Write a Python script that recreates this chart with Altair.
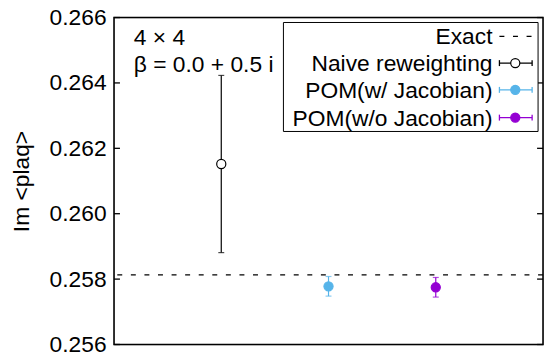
import altair as alt
import pandas as pd

# ---- data ----
methods = ["Naive reweighting", "POM(w/ Jacobian)", "POM(w/o Jacobian)"]
xpos = [1, 2, 3]
values = [0.26152, 0.25778, 0.25775]
errors = [0.00271, 0.00030, 0.00030]
colors = ["#000000", "#56B4E9", "#9400D3"]
fills = ["#ffffff", "#56B4E9", "#9400D3"]
exact_value = 0.25813
y_ticks = [0.256, 0.258, 0.260, 0.262, 0.264, 0.266]
legend_labels = ["Exact"] + methods

W, H = 433, 330
FONT = "Liberation Sans"
FS = 23

ydom = [0.256, 0.266]
xsc = alt.Scale(domain=[0, 4], nice=False, zero=False)
ysc = alt.Scale(domain=ydom, nice=False, zero=False)

df = pd.DataFrame({
    "method": methods, "x": xpos, "v": values, "e": errors,
    "color": colors, "fill": fills,
})
df["lo"] = df["v"] - df["e"]
df["hi"] = df["v"] + df["e"]

ticks_df = pd.DataFrame({"t": y_ticks})

base = alt.Chart(df)

# y axis (labels + title) carried by an invisible layer
axis_layer = alt.Chart(ticks_df).mark_point(opacity=0).encode(
    y=alt.Y("t:Q", scale=ysc, title="Im <plaq>",
            axis=alt.Axis(values=y_ticks, format=".3f", tickSize=0, domain=False,
                          grid=False, labelFontSize=FS, labelFont=FONT,
                          labelColor="black", labelPadding=8,
                          titleFontSize=FS, titleFont=FONT, titleFontWeight="normal",
                          titleColor="black", titlePadding=16)),
)

frame = alt.Chart(pd.DataFrame({"a": [0]})).mark_rect(
    fillOpacity=0, stroke="black", strokeWidth=1.6).encode(
    x=alt.value(0), x2=alt.value(W), y=alt.value(0), y2=alt.value(H))

left_ticks = alt.Chart(ticks_df).mark_rule(color="black", strokeWidth=1.3).encode(
    y=alt.Y("t:Q", scale=ysc), x=alt.value(0), x2=alt.value(6))
right_ticks = alt.Chart(ticks_df).mark_rule(color="black", strokeWidth=1.3).encode(
    y=alt.Y("t:Q", scale=ysc), x=alt.value(W - 6), x2=alt.value(W))

exact_line = alt.Chart(pd.DataFrame({"v": [exact_value]})).mark_rule(
    color="black", strokeWidth=1.3, strokeDash=[5, 8.7]).encode(
    y=alt.Y("v:Q", scale=ysc))

err = base.mark_rule(strokeWidth=1.2).encode(
    x=alt.X("x:Q", scale=xsc, axis=None),
    y=alt.Y("lo:Q", scale=ysc),
    y2="hi:Q",
    color=alt.Color("color:N", scale=None),
)
cap_lo = base.mark_tick(size=6, thickness=1.2, orient="horizontal").encode(
    x=alt.X("x:Q", scale=xsc), y=alt.Y("lo:Q", scale=ysc),
    color=alt.Color("color:N", scale=None))
cap_hi = base.mark_tick(size=6, thickness=1.2, orient="horizontal").encode(
    x=alt.X("x:Q", scale=xsc), y=alt.Y("hi:Q", scale=ysc),
    color=alt.Color("color:N", scale=None))
pts = base.mark_point(filled=False, size=85, strokeWidth=1.2, opacity=1).encode(
    x=alt.X("x:Q", scale=xsc), y=alt.Y("v:Q", scale=ysc),
    stroke=alt.Stroke("color:N", scale=None),
    fill=alt.Fill("fill:N", scale=None),
)

# annotation
ann1 = alt.Chart(pd.DataFrame({"t": ["4 × 4"]})).mark_text(
    align="left", baseline="alphabetic", font=FONT, fontSize=FS, color="black").encode(
    text="t:N", x=alt.value(20), y=alt.value(28))
ann2 = alt.Chart(pd.DataFrame({"t": ["β = 0.0 + 0.5 i"]})).mark_text(
    align="left", baseline="alphabetic", font=FONT, fontSize=FS, color="black").encode(
    text="t:N", x=alt.value(20), y=alt.value(55))

# legend (manual)
legend_box = alt.Chart(pd.DataFrame({"a": [0]})).mark_rect(
    fill="white", stroke="black", strokeWidth=1).encode(
    x=alt.value(171), x2=alt.value(428), y=alt.value(5), y2=alt.value(115))

legend_layers = [legend_box]
row_y = [19, 46, 73, 101]
sym_x0, sym_x1, sym_xc = 389, 422, 405
for i, lab in enumerate(legend_labels):
    yy = row_y[i]
    legend_layers.append(
        alt.Chart(pd.DataFrame({"t": [lab]})).mark_text(
            align="right", baseline="middle", font=FONT, fontSize=FS, color="black",
            dy=1).encode(text="t:N", x=alt.value(382), y=alt.value(yy)))
    if i == 0:
        legend_layers.append(
            alt.Chart(pd.DataFrame({"a": [0]})).mark_rule(
                color="black", strokeWidth=1.3, strokeDash=[5, 8.7]).encode(
                x=alt.value(sym_x0), x2=alt.value(sym_x1 + 2), y=alt.value(yy)))
    else:
        c = colors[i - 1]
        f = fills[i - 1]
        legend_layers.append(
            alt.Chart(pd.DataFrame({"a": [0]})).mark_rule(color=c, strokeWidth=1.3).encode(
                x=alt.value(sym_x0), x2=alt.value(sym_x1), y=alt.value(yy)))
        for xx in (sym_x0, sym_x1):
            legend_layers.append(
                alt.Chart(pd.DataFrame({"a": [0]})).mark_rule(color=c, strokeWidth=1.3).encode(
                    x=alt.value(xx), y=alt.value(yy - 3), y2=alt.value(yy + 3)))
        legend_layers.append(
            alt.Chart(pd.DataFrame({"a": [0]})).mark_point(
                filled=False, size=85, strokeWidth=1.2, stroke=c, fill=f, opacity=1).encode(
                x=alt.value(sym_xc), y=alt.value(yy)))

chart = alt.layer(
    axis_layer, exact_line, left_ticks, right_ticks, err, cap_lo, cap_hi, pts,
    ann1, ann2, frame, *legend_layers,
).properties(
    width=W, height=H,
    autosize=alt.AutoSizeParams(type="none"),
    padding={"left": 107, "top": 8, "right": 2, "bottom": 12},
).configure_view(
    stroke=None
).configure(background="white")

chart.save("out.html", embed_options={"renderer": "svg", "actions": False})
